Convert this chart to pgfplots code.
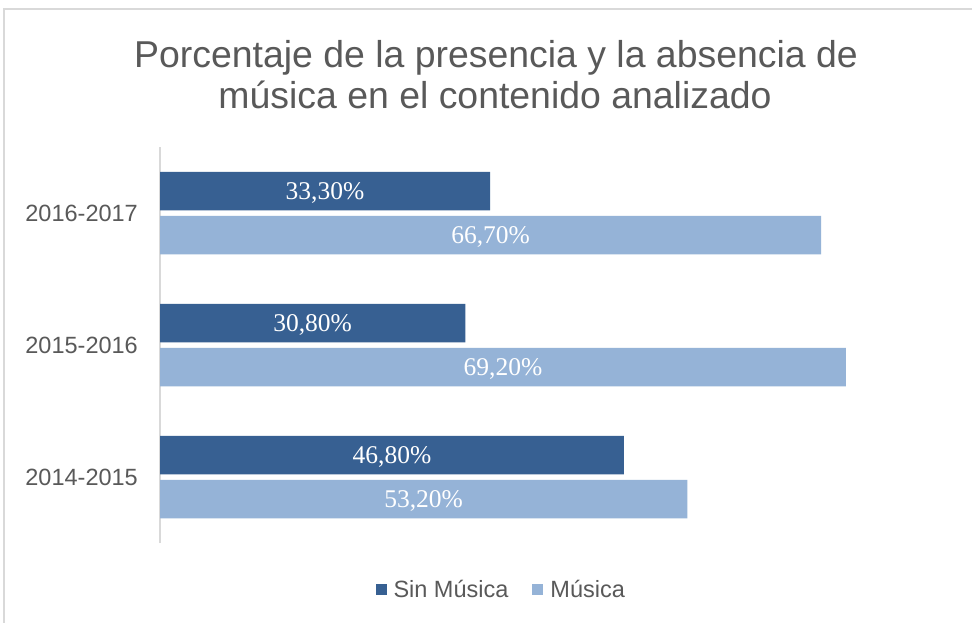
\documentclass[border=0pt]{standalone}
\usepackage{pgfplots}
\pgfplotsset{compat=1.18}
\usepackage{pgfplotstable}
\usepackage{fontspec}
\setmainfont{Liberation Sans}
\newfontfamily\seriffont{Liberation Serif}
\definecolor{darkbar}{RGB}{55,96,146}
\definecolor{lightbar}{RGB}{149,179,215}
\definecolor{txtgray}{RGB}{89,89,89}
\definecolor{linegray}{RGB}{217,217,217}
\pgfplotstableread{
y sin con
0 46.8 53.2
1 30.8 69.2
2 33.3 66.7
}\datatable
\begin{document}
\begin{tikzpicture}
\useasboundingbox (0,0) rectangle (972bp,-623bp);
\fill[white] (0,0) rectangle (972bp,-623bp);
\draw[linegray, line width=1.5bp] (4bp,-623bp) -- (4bp,-9bp) -- (972bp,-9bp);
\node[anchor=base, text=txtgray, font=\fontsize{37.4bp}{42bp}\selectfont] at (496bp,-67bp) {Porcentaje de la presencia y la absencia de};
\node[anchor=base, text=txtgray, font=\fontsize{37.4bp}{42bp}\selectfont] at (495bp,-108bp) {música en el contenido analizado};
\begin{axis}[
  at={(160bp,-147bp)}, anchor=north west,
  scale only axis, width=793bp, height=396bp,
  xbar, xmin=0, xmax=80, ymin=-0.5, ymax=2.5,
  enlargelimits=false,
  axis x line=none, axis y line*=left,
  y axis line style={draw=linegray, line width=1.2bp, -},
  xtick=\empty,
  ytick={0,1,2}, yticklabels={2014-2015,2015-2016,2016-2017},
  major tick length=0pt,
  yticklabel style={font=\fontsize{23.5bp}{28bp}\selectfont, text=txtgray, inner sep=0pt, xshift=-22bp},
  clip=false,
  legend columns=2,
  legend style={at={(0.429,-0.118)}, anchor=center, draw=none, fill=none,
    font=\fontsize{23.5bp}{28bp}\selectfont, text=txtgray,
    nodes={inner sep=0pt},
    /tikz/every odd column/.append style={column sep=7bp},
    /tikz/every even column/.append style={column sep=24bp}},
  legend image code/.code={\fill[#1] (0bp,-5.5bp) rectangle (11bp,5.5bp);},
]
\addplot[xbar, bar width=38.5bp, bar shift=22bp, fill=darkbar, draw=none] table[x=sin, y=y] {\datatable};
\addlegendentry{Sin Música}
\addplot[xbar, bar width=38.5bp, bar shift=-22bp, fill=lightbar, draw=none] table[x=con, y=y] {\datatable};
\addlegendentry{Música}
\addplot[xbar, bar width=38.5bp, bar shift=22bp, draw=none, fill=none, forget plot,
  point meta=\thisrow{sin},
  nodes near coords={\pgfmathprintnumber[fixed, fixed zerofill, precision=2, use comma, assume math mode=true]{\pgfplotspointmeta}\%},
  nodes near coords style={anchor=center, yshift=-1.5bp, text=white, font=\seriffont\fontsize{25.5bp}{30bp}\selectfont}]
  table[x expr=\thisrow{sin}/2, y=y] {\datatable};
\addplot[xbar, bar width=38.5bp, bar shift=-22bp, draw=none, fill=none, forget plot,
  point meta=\thisrow{con},
  nodes near coords={\pgfmathprintnumber[fixed, fixed zerofill, precision=2, use comma, assume math mode=true]{\pgfplotspointmeta}\%},
  nodes near coords style={anchor=center, yshift=-1.5bp, text=white, font=\seriffont\fontsize{25.5bp}{30bp}\selectfont}]
  table[x expr=\thisrow{con}/2, y=y] {\datatable};
\end{axis}
\end{tikzpicture}
\end{document}
